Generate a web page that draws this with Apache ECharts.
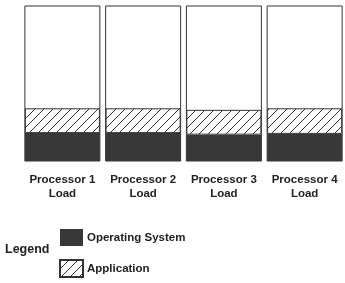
<!DOCTYPE html>
<html lang="en">
<head>
    <meta charset="UTF-8">
    <title>Processor Load</title>
    <script src="https://cdn.jsdelivr.net/npm/echarts@6/dist/echarts.min.js"></script>
    <style>
        body { margin: 0; background: #fff; }
    </style>
</head>
<body>
    <div id="main" style="width: 345px;height:283px;"></div>
    <script>
        // data (percent of processor load)
        var categories = ['Processor 1\nLoad', 'Processor 2\nLoad', 'Processor 3\nLoad', 'Processor 4\nLoad'];
        var osLoad = [18, 18, 17, 17.5];
        var appLoad = [16, 16, 16, 16.5];
        var seriesNames = ['Operating System', 'Application'];

        // diagonal hatch tile
        function hatchTile() {
            var c = document.createElement('canvas');
            c.width = 9;
            c.height = 9;
            var ctx = c.getContext('2d');
            ctx.fillStyle = '#fff';
            ctx.fillRect(0, 0, 9, 9);
            ctx.fillStyle = '#333';
            for (var i = 0; i < 9; i++) {
                ctx.fillRect(i, 8 - i, 1, 1);
            }
            return c;
        }

        var myChart = echarts.init(document.getElementById('main'));
        var font = '"Liberation Sans", Arial, sans-serif';

        var option = {
            animation: false,
            title: {
                text: 'Legend',
                left: 5,
                top: 243,
                padding: 0,
                textStyle: { fontFamily: font, fontSize: 12.5, fontWeight: 'bold', color: '#222' }
            },
            legend: {
                orient: 'vertical',
                left: 59,
                top: 229,
                padding: 0,
                itemWidth: 23,
                itemHeight: 17,
                itemGap: 13,
                icon: 'rect',
                data: seriesNames,
                textStyle: { fontFamily: font, fontSize: 11.5, fontWeight: 'bold', color: '#222', padding: [0, 0, 0, -1] }
            },
            grid: { left: 22, right: -5, top: 6, bottom: 122 },
            xAxis: {
                type: 'category',
                data: categories,
                axisLine: { show: false },
                axisTick: { show: false },
                axisLabel: {
                    margin: 12,
                    interval: 0,
                    fontFamily: font,
                    fontSize: 11.5,
                    fontWeight: 'bold',
                    lineHeight: 14,
                    color: '#222'
                }
            },
            yAxis: { type: 'value', min: 0, max: 100, show: false },
            series: [
                {
                    name: seriesNames[0],
                    type: 'bar',
                    stack: 'load',
                    barWidth: 75,
                    showBackground: true,
                    backgroundStyle: { color: '#fff', borderColor: '#333', borderWidth: 1 },
                    itemStyle: { color: '#383838' },
                    data: osLoad
                },
                {
                    name: seriesNames[1],
                    type: 'bar',
                    stack: 'load',
                    barWidth: 75,
                    itemStyle: {
                        color: { image: hatchTile(), repeat: 'repeat' },
                        borderColor: '#333',
                        borderWidth: 1
                    },
                    data: appLoad
                }
            ]
        };

        myChart.setOption(option);
    </script>
</body>
</html>
